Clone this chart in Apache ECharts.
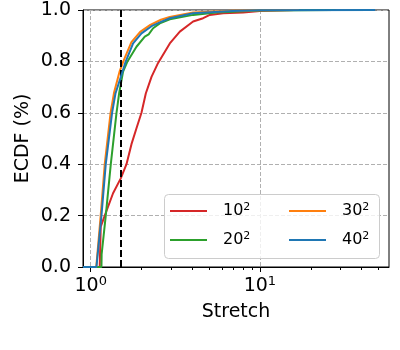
<!DOCTYPE html>
<html lang="en">
<head>
<meta charset="UTF-8">
<title>ECDF stretch</title>
<script src="https://cdn.jsdelivr.net/npm/echarts@6.0.0/dist/echarts.min.js"></script>
<style>html,body{margin:0;padding:0;background:#fff;}</style>
</head>
<body>
<div id="main" style="width:400px;height:350px;"></div>
<script>
// ticks
var xMajor = [1, 10];
var xMinor = [2, 3, 4, 5, 6, 7, 8, 9, 20, 30, 40, 50];
var cutoff = 1.5;

// series names (grid size), legend columns
var names = ['10^2', '20^2', '30^2', '40^2'];
var colors = ['#d62728', '#2ca02c', '#ff7f0e', '#1f77b4'];

// [stretch, ecdf]
var ecdf10 = [[0.9,0],[1.13,0],[1.146,0.157],[1.21,0.2],[1.355,0.287],[1.505,0.345],[1.627,0.4],[1.741,0.478],[1.864,0.54],[1.995,0.6],[2.116,0.675],[2.287,0.74],[2.502,0.794],[2.934,0.87],[3.363,0.916],[4.03,0.955],[4.618,0.968],[5.059,0.981],[6.065,0.987],[7.964,0.99],[10,0.996],[16,1.0]];
var ecdf20 = [[0.9,0],[1.157,0],[1.16,0.05],[1.227,0.2],[1.314,0.4],[1.42,0.6],[1.471,0.675],[1.553,0.76],[1.649,0.8],[1.864,0.857],[2.087,0.896],[2.2,0.905],[2.337,0.929],[2.56,0.948],[2.934,0.964],[4.03,0.981],[5.54,0.99],[10,0.998],[28,1.0]];
var ecdf30 = [[0.9,0],[1.078,0],[1.145,0.2],[1.21,0.4],[1.31,0.6],[1.375,0.68],[1.48,0.76],[1.58,0.81],[1.74,0.875],[1.96,0.915],[2.25,0.942],[2.6,0.962],[2.93,0.973],[4.03,0.99],[6.9,0.997],[10,0.999],[17,1.0]];
var ecdf40 = [[0.9,0],[1.081,0],[1.157,0.2],[1.227,0.4],[1.337,0.6],[1.40,0.675],[1.505,0.739],[1.611,0.8],[1.78,0.87],[1.995,0.909],[2.287,0.937],[2.62,0.955],[2.934,0.968],[4.03,0.987],[6.92,0.996],[10,0.999],[48,1.0]];
var allData = [ecdf10, ecdf20, ecdf30, ecdf40];

var font = 'DejaVu Sans';
var supRich = function (size, supSize, lift, padLeft) {
    return {
        b: {fontSize: size, fontFamily: font, color: '#000', padding: [0, 0, 0, padLeft]},
        s: {fontSize: supSize, fontFamily: font, color: '#000', padding: [0, 0, lift, 0]}
    };
};
var supFmt = function (name) {
    var p = name.split('^');
    return '{b|' + p[0] + '}{s|' + p[1] + '}';
};
var dash = {color: '#b0b0b0', type: [4, 2], width: 1};

var myChart = echarts.init(document.getElementById('main'));

var series = names.map(function (n, i) {
    var s = {
        name: n,
        type: 'line',
        data: allData[i],
        symbol: 'none',
        showSymbol: false,
        lineStyle: {width: 2, color: colors[i]},
        itemStyle: {color: colors[i]},
        z: 2 + i
    };
    return s;
});
// vertical threshold line
series[3].markLine = {
    silent: true,
    symbol: ['none', 'none'],
    label: {show: false},
    lineStyle: {color: '#000', type: [7, 3], width: 2},
    data: [{xAxis: cutoff}]
};

var legendBase = {
    orient: 'vertical',
    top: 201,
    padding: 0,
    itemWidth: 37,
    itemHeight: 2,
    itemGap: 9,
    icon: 'rect',
    formatter: supFmt,
    textStyle: {rich: supRich(16, 11, 8, 11), lineHeight: 20},
    z: 11
};

var option = {
    animation: false,
    grid: {left: 83, right: 11, top: 10, bottom: 83, show: true, borderColor: '#000', borderWidth: 1, containLabel: false, outerBoundsMode: 'none'},
    xAxis: [{
        type: 'log', logBase: 10, min: 0.9, max: 58,
        name: 'Stretch', nameLocation: 'middle', nameGap: 36, nameMoveOverlap: false,
        nameTextStyle: {fontSize: 19, fontFamily: font, color: '#000'},
        axisLine: {show: true, lineStyle: {color: '#000', width: 1}},
        axisTick: {show: true, length: 5, customValues: xMajor, lineStyle: {color: '#000'}},
        axisLabel: {customValues: xMajor, margin: 8, formatter: function (v) {
            return '{b|10}{s|' + Math.round(Math.log10(v)) + '}';
        }, rich: supRich(19, 13, 10, 0)},
        splitLine: {show: true, lineStyle: dash}
    }, {
        type: 'log', logBase: 10, min: 0.9, max: 58, position: 'bottom',
        axisLine: {show: false},
        axisTick: {show: true, length: 3, customValues: xMinor, lineStyle: {color: '#000'}},
        axisLabel: {show: false},
        splitLine: {show: false}
    }],
    yAxis: {
        type: 'value', min: 0, max: 1, interval: 0.2,
        name: 'ECDF (%)', nameLocation: 'middle', nameGap: 50, nameMoveOverlap: false,
        nameTextStyle: {fontSize: 19, fontFamily: font, color: '#000'},
        axisLine: {show: true, lineStyle: {color: '#000', width: 1}},
        axisTick: {show: true, length: 5, lineStyle: {color: '#000'}},
        axisLabel: {fontSize: 19, fontFamily: font, color: '#000', margin: 12, formatter: function (v) { return v.toFixed(1); }},
        splitLine: {show: true, lineStyle: dash}
    },
    graphic: [{
        type: 'rect', left: 164, top: 194, z: 10,
        shape: {width: 215, height: 64, r: 4},
        style: {fill: 'rgba(255,255,255,0.8)', stroke: '#cccccc', lineWidth: 1}
    }],
    legend: [
        Object.assign({}, legendBase, {left: 170, data: [names[0], names[1]]}),
        Object.assign({}, legendBase, {left: 289, data: [names[2], names[3]]})
    ],
    series: series
};
myChart.setOption(option);
</script>
</body>
</html>
